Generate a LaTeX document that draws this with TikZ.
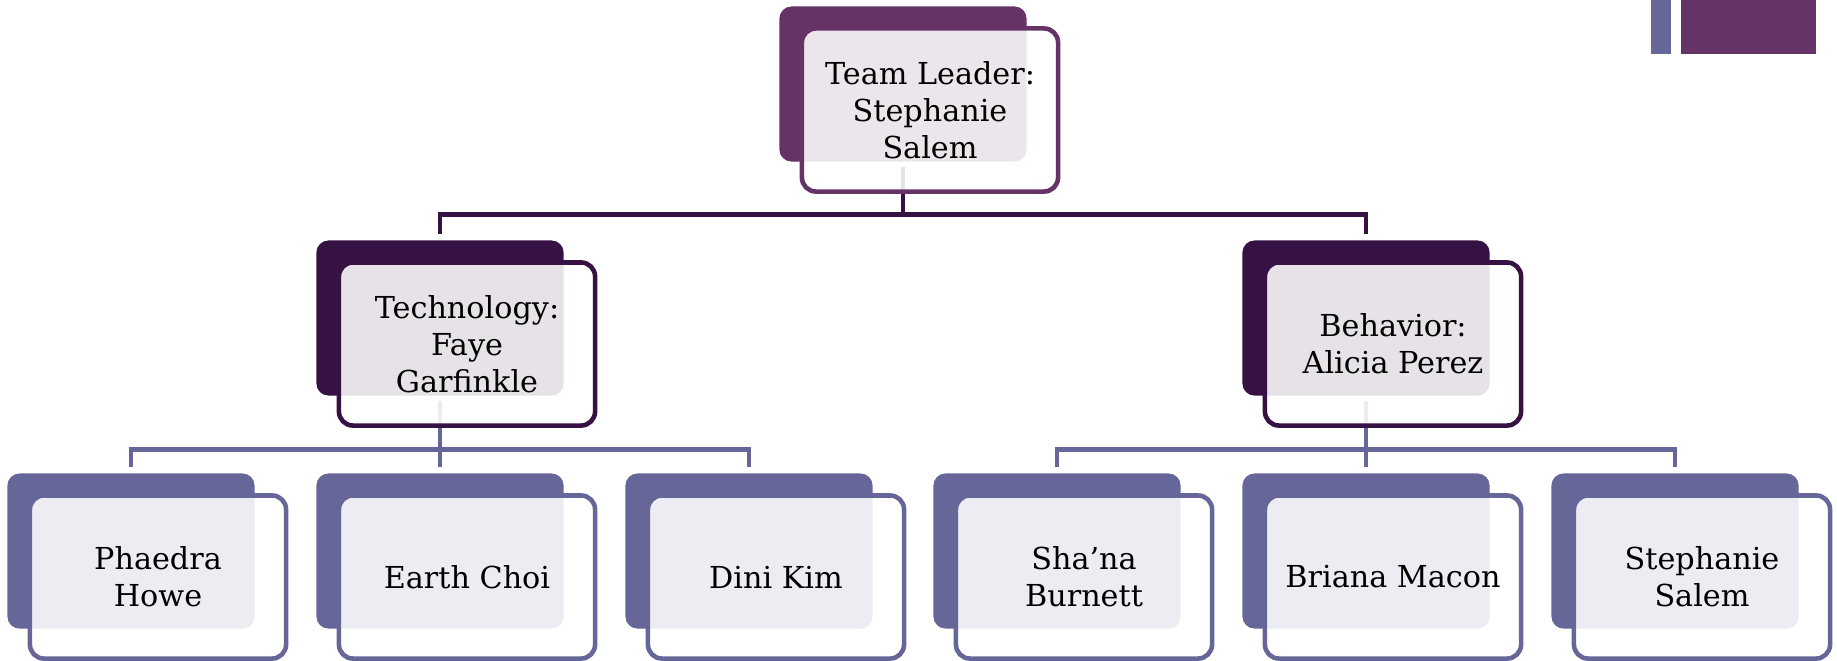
\documentclass[tikz,border=0pt]{standalone}
\usepackage{fontspec}
\setmainfont{DejaVu Serif}
\usetikzlibrary{calc,positioning,backgrounds}
\pgfdeclarelayer{nodelayer}
\pgfdeclarelayer{edgelayer}
\pgfsetlayers{edgelayer,nodelayer, main}
\definecolor{lead}  {HTML}{663366}
\definecolor{branch}{HTML}{351243}
\definecolor{member}{HTML}{666699}

\begin{document}
\begin{tikzpicture}[x=0.01cm, y=-0.01cm,
    back/.style={fill=#1, rounded corners=0.12cm, minimum width=2.47cm, minimum height=1.55cm, inner sep=0pt},
    front/.style={draw=#1, line width=1.3pt, fill=white, fill opacity=0.88, text opacity=1,
        rounded corners=0.14cm, minimum width=2.56cm, minimum height=1.63cm, inner sep=0pt,
        align=center, font=\fontsize{8.6}{10.5}\selectfont},
    link/.style={draw=#1, line width=1.3pt, shorten >=0.06cm, shorten <=0.05cm}]
    \useasboundingbox (0,0) rectangle (1837,660);
    \begin{pgfonlayer}{nodelayer}
            \node [back=lead] (0) at (903, 84) {};
            \node [back=branch] (1) at (440, 318) {};
            \node [back=branch] (2) at (1366, 318) {};
            \node [back=member] (3) at (131, 551) {};
            \node [back=member] (4) at (440, 551) {};
            \node [back=member] (5) at (749, 551) {};
            \node [back=member] (6) at (1057, 551) {};
            \node [back=member] (7) at (1366, 551) {};
            \node [back=member] (8) at (1675, 551) {};
    \end{pgfonlayer}
            \node [front=lead] (10) at (930, 110) {Team Leader:\\Stephanie\\Salem};
            \node [front=branch] (11) at (467, 344) {Technology:\\Faye\\Garfinkle};
            \node [front=branch] (12) at (1393, 344) {Behavior:\\Alicia Perez};
            \node [front=member] (13) at (158, 577) {Phaedra\\Howe};
            \node [front=member] (14) at (467, 577) {Earth Choi};
            \node [front=member] (15) at (776, 577) {Dini Kim};
            \node [front=member] (16) at (1084, 577) {Sha’na\\Burnett};
            \node [front=member] (17) at (1393, 577) {Briana Macon};
            \node [front=member] (18) at (1702, 577) {Stephanie\\Salem};
    \begin{pgfonlayer}{edgelayer}
            \draw [link=branch] (0.south) -- ++(0, 52) -| (1.north);
            \draw [link=branch] (0.south) -- ++(0, 52) -| (2.north);
            \draw [link=member] (1.south) -- ++(0, 53) -| (3.north);
            \draw [link=member] (1.south) -- ++(0, 53) -| (4.north);
            \draw [link=member] (1.south) -- ++(0, 53) -| (5.north);
            \draw [link=member] (2.south) -- ++(0, 53) -| (6.north);
            \draw [link=member] (2.south) -- ++(0, 53) -| (7.north);
            \draw [link=member] (2.south) -- ++(0, 53) -| (8.north);
    \end{pgfonlayer}
        % corner marks
        \fill [member] (1651, 0) rectangle (1671, 54);
        \fill [lead] (1681, 0) rectangle (1816, 54);
\end{tikzpicture}
\end{document}
